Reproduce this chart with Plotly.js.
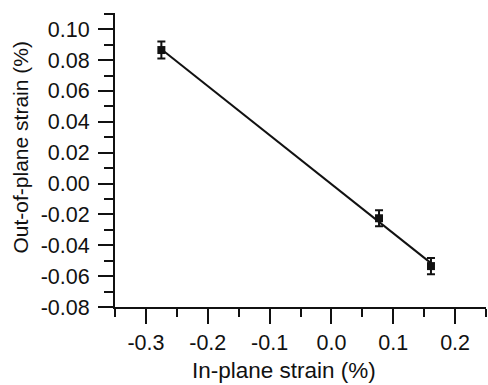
<!DOCTYPE html>
<html>
<head>
<meta charset="utf-8">
<script src="https://cdn.plot.ly/plotly-3.0.1.min.js"></script>
<style>html,body{margin:0;padding:0;background:#fff;}#chart{width:488px;height:385px;}</style>
</head>
<body>
<div id="chart"></div>
<script>
// Data
const inPlane = [-0.275, 0.077, 0.161];
const outOfPlane = [0.0865, -0.0225, -0.0535];
const outErr = [0.0055, 0.0052, 0.0052];
const xTickVals = [-0.3, -0.2, -0.1, 0.0, 0.1, 0.2];
const xTickText = ["-0.3", "-0.2", "-0.1", "0.0", "0.1", "0.2"];
const yTickVals = [-0.08, -0.06, -0.04, -0.02, 0.00, 0.02, 0.04, 0.06, 0.08, 0.10];
const yTickText = ["-0.08", "-0.06", "-0.04", "-0.02", "0.00", "0.02", "0.04", "0.06", "0.08", "0.10"];
const xTitle = "In-plane strain (%)";
const yTitle = "Out-of-plane strain (%)";

// least-squares linear fit of the data
const n = inPlane.length;
const mx = inPlane.reduce((a, b) => a + b, 0) / n;
const my = outOfPlane.reduce((a, b) => a + b, 0) / n;
let sxy = 0, sxx = 0;
for (let i = 0; i < n; i++) { sxy += (inPlane[i] - mx) * (outOfPlane[i] - my); sxx += (inPlane[i] - mx) ** 2; }
const slope = sxy / sxx, intercept = my - slope * mx;
const fitX = [Math.min(...inPlane), Math.max(...inPlane)];
const fitY = fitX.map(x => intercept + slope * x);

const font = {family: "Liberation Sans, Arial, sans-serif", color: "#111", size: 21.5};

const traces = [
  {x: fitX, y: fitY, mode: "lines", line: {color: "#111", width: 2}, hoverinfo: "skip", showlegend: false},
  {x: inPlane, y: outOfPlane, mode: "markers",
   marker: {symbol: "square", size: 8, color: "#111"},
   error_y: {type: "data", array: outErr, visible: true, color: "#111", thickness: 2, width: 4},
   showlegend: false}
];

const axisCommon = {
  showline: true, linecolor: "#111", linewidth: 2, mirror: false,
  ticks: "outside", ticklen: 15, tickwidth: 2, tickcolor: "#111",
  showgrid: false, zeroline: false, tickfont: font, tickmode: "array"
};

const layout = {
  width: 488, height: 385,
  margin: {l: 115, r: 2, t: 13, b: 78},
  paper_bgcolor: "#fff", plot_bgcolor: "#fff",
  font: font,
  xaxis: Object.assign({}, axisCommon, {
    range: [-0.35, 0.25], tickvals: xTickVals, ticktext: xTickText,
    minor: {tickmode: "linear", tick0: -0.35, dtick: 0.05, ticks: "outside", ticklen: 8, tickwidth: 2, tickcolor: "#111"}
  }),
  yaxis: Object.assign({}, axisCommon, {
    range: [-0.08, 0.1105], tickvals: yTickVals, ticktext: yTickText, ticklabelstandoff: 4,
    minor: {tickmode: "linear", tick0: -0.08, dtick: 0.01, ticks: "outside", ticklen: 9, tickwidth: 2, tickcolor: "#111"}
  }),
  annotations: [
    {text: xTitle, xref: "paper", yref: "paper", x: (283.5 - 115) / 371, y: -(370 - 307) / 294,
     xanchor: "center", yanchor: "middle", showarrow: false, font: Object.assign({}, font, {size: 22.5})},
    {text: yTitle, xref: "paper", yref: "paper", x: (20 - 115) / 371, y: (307 - 147.5) / 294,
     xanchor: "center", yanchor: "middle", textangle: -90, showarrow: false, font: Object.assign({}, font, {size: 21})}
  ]
};

Plotly.newPlot("chart", traces, layout, {displayModeBar: false, staticPlot: true});
</script>
</body>
</html>
